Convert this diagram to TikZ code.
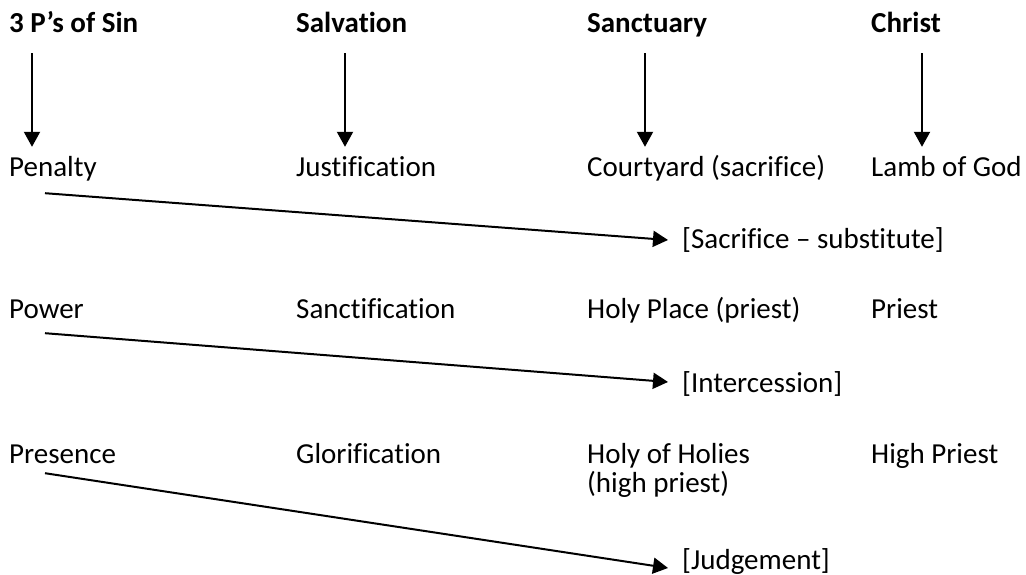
\documentclass[tikz,border=0pt]{standalone}
\usepackage{fontspec}
\setmainfont[Ligatures=NoCommon]{Carlito}
\usepackage{tikz}
\usetikzlibrary{calc}
\usetikzlibrary{arrows.meta}

\tikzset{
    txt/.style={inner sep=0pt, anchor=base west, text height=21pt, text depth=7pt,
        font=\fontsize{29}{35}\selectfont},
    head/.style={txt, font=\fontsize{29}{35}\selectfont\bfseries},
    arr/.style={line width=2pt, -{Triangle[length=15pt,width=16pt]}}
}

\begin{document}
\begin{tikzpicture}[x=1pt,y=1pt]
    \useasboundingbox (0,0) rectangle (1026,-575);

    % Column starts
    \def\colA{9}
    \def\colB{296}
    \def\colC{587}
    \def\colD{871}
    \def\colE{682}

    % Headers
    \node[head] (sin)   at (\colA,-33) {3 P’s of Sin};
    \node[head] (salv)  at (\colB,-33) {Salvation};
    \node[head] (sanc)  at (\colC,-33) {Sanctuary};
    \node[head] (chr)   at (\colD,-33) {Christ};

    % First row
    \node[txt] (pen)    at (\colA,-177) {Penalty};
    \node[txt] (just)   at (\colB,-177) {Justification};
    \node[txt] (court)  at (\colC,-177) {Courtyard (sacrifice)};
    \node[txt] (lamb)   at (\colD,-177) {Lamb of God};
    \node[txt] (subst)  at (\colE,-248) {[Sacrifice – substitute]};

    % Second row
    \node[txt] (pow)    at (\colA,-318) {Power};
    \node[txt] (sanct)  at (\colB,-318) {Sanctification};
    \node[txt] (place)  at (\colC,-318) {Holy Place (priest)};
    \node[txt] (priest) at (\colD,-318) {Priest};
    \node[txt] (inter)  at (\colE,-392) {[Intercession]};

    % Third row
    \node[txt] (pres)   at (\colA,-463) {Presence};
    \node[txt] (glor)   at (\colB,-463) {Glorification};
    \node[txt] (holies) at (\colC,-463) {Holy of Holies};
    \node[txt] (hpr)    at (\colC,-492) {(high priest)};
    \node[txt] (high)   at (\colD,-463) {High Priest};
    \node[txt] (judg)   at (\colE,-569) {[Judgement]};

    % Down arrows from the headers
    \foreach \top/\bot/\dx in {sin/pen/23, salv/just/49, sanc/court/58, chr/lamb/51}
        \draw[arr] ([xshift=\dx pt, yshift=-13pt]\top.south west) -- ([xshift=\dx pt, yshift=9pt]\bot.north west);

    % Slanted arrows
    \coordinate (penS)  at ([xshift=36pt, yshift=-9pt]pen.south west);
    \coordinate (powS)  at ([xshift=36pt, yshift=-8pt]pow.south west);
    \coordinate (presS) at ([xshift=36pt, yshift=-3pt]pres.south west);
    \draw[arr] (penS)  -- ([xshift=-14pt, yshift=1pt]subst.west);
    \draw[arr] (powS)  -- ([xshift=-14pt, yshift=3pt]inter.west);
    \draw[arr] (presS) -- ([xshift=-14pt, yshift=-6pt]judg.west);
\end{tikzpicture}
\end{document}
